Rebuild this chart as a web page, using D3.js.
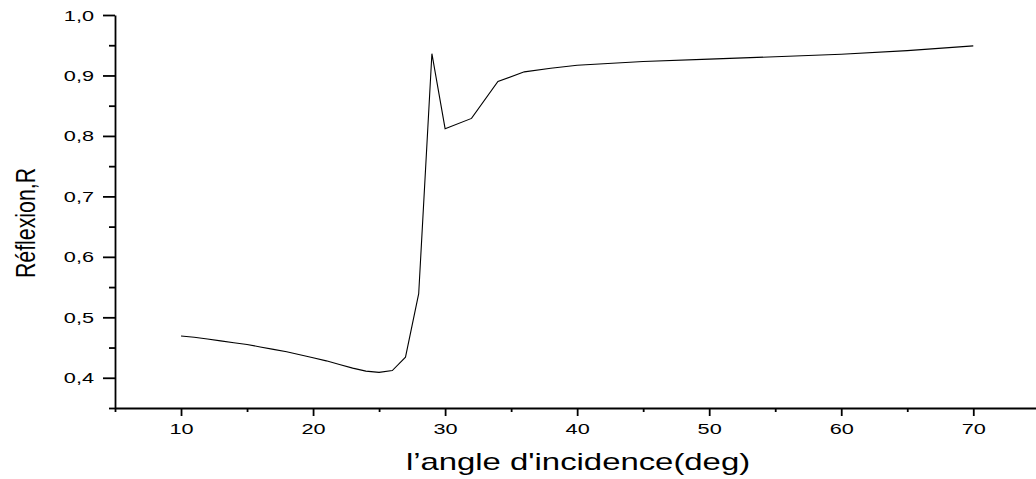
<!DOCTYPE html>
<html>
<head>
<meta charset="utf-8">
<script src="https://cdn.jsdelivr.net/npm/d3@7"></script>
<style>
    html, body { margin: 0; padding: 0; background: #fff; }
    svg { display: block; font-family: "Liberation Sans", Arial, sans-serif; }
</style>
</head>
<body>
<div id="chart"></div>
<script>
// angle d'incidence (deg) and reflexion R
const angles = [10, 11, 12, 13, 14, 15, 16, 17, 18, 19, 20, 21, 22, 23, 24, 25, 26, 27, 28, 29, 30, 32, 34, 36, 38, 40, 45, 50, 55, 60, 65, 70];
const reflexion = [0.469, 0.467, 0.464, 0.461, 0.458, 0.455, 0.451, 0.447, 0.443, 0.438, 0.433, 0.428, 0.422, 0.416, 0.411, 0.409, 0.412, 0.434, 0.539, 0.936, 0.812, 0.829, 0.890, 0.906, 0.912, 0.917, 0.923, 0.927, 0.931, 0.935, 0.941, 0.949];
const xMajor = [10, 20, 30, 40, 50, 60, 70];
const xMinor = [5, 15, 25, 35, 45, 55, 65, 75];
const yMajor = [0.4, 0.5, 0.6, 0.7, 0.8, 0.9, 1.0];
const yMinor = [0.35, 0.45, 0.55, 0.65, 0.75, 0.85, 0.95];

const width = 1036, height = 479;
const stretch = 1.55; // the picture is stretched sideways, text too

const svg = d3.select('#chart').append('svg')
    .attr('width', width)
    .attr('height', height);

const x = d3.scaleLinear().domain([5, 75]).range([115, 1039.3]);
const y = d3.scaleLinear().domain([0.35, 1.0]).range([408, 15]);
const fmt = d => d3.format('.1f')(d).replace('.', ',');

// minor ticks first, then the main axes on top
svg.append('g')
    .attr('transform', `translate(0,${y(0.35)})`)
    .call(d3.axisBottom(x).tickValues(xMinor).tickSize(4).tickFormat(''))
    .call(g => g.select('.domain').remove());
svg.append('g')
    .attr('transform', `translate(${x(5)},0)`)
    .call(d3.axisLeft(y).tickValues(yMinor).tickSize(6).tickFormat(''))
    .call(g => g.select('.domain').remove());

const xAxis = svg.append('g')
    .attr('transform', `translate(0,${y(0.35)})`)
    .call(d3.axisBottom(x).tickValues(xMajor).tickSize(8).tickSizeOuter(0).tickFormat(d3.format('d')));
xAxis.selectAll('text')
    .attr('y', 26.3).attr('dy', 0)
    .attr('transform', `scale(${stretch},1)`)
    .style('font-size', '14px').attr('fill', '#000');

const yAxis = svg.append('g')
    .attr('transform', `translate(${x(5)},0)`)
    .call(d3.axisLeft(y).tickValues(yMajor).tickSize(12).tickSizeOuter(0).tickFormat(fmt));
yAxis.selectAll('text')
    .attr('x', -21 / stretch).attr('dy', '0.36em')
    .attr('transform', `scale(${stretch},1)`)
    .style('font-size', '14px').attr('fill', '#000');

svg.selectAll('.domain, .tick line')
    .attr('stroke', '#000')
    .attr('stroke-width', 1.8);

const line = d3.line()
    .x((d, i) => x(angles[i]))
    .y(d => y(d));

svg.append('path')
    .datum(reflexion)
    .attr('d', line)
    .attr('fill', 'none')
    .attr('stroke', '#000')
    .attr('stroke-width', 1.1);

svg.append('text')
    .attr('transform', `translate(578,470) scale(1.37,1)`)
    .attr('text-anchor', 'middle')
    .style('font-size', '24px')
    .text('l’angle d\'incidence(deg)');

svg.append('text')
    .attr('transform', `translate(35,223) scale(1.31,1) rotate(-90)`)
    .attr('text-anchor', 'middle')
    .style('font-size', '21.3px')
    .text('Réflexion,R');
</script>
</body>
</html>
